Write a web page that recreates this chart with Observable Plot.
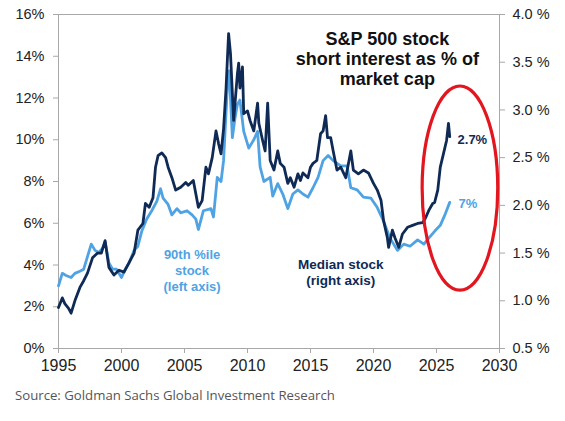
<!DOCTYPE html>
<html><head><meta charset="utf-8">
<script src="https://cdn.jsdelivr.net/npm/d3@7"></script>
<script src="https://cdn.jsdelivr.net/npm/@observablehq/plot@0.6"></script>
<style>
body{margin:0;background:#fff;}
#caption{font-family:"Open Sans",sans-serif;font-size:13.2px;color:#555;margin:6px 0 0 15px;}
</style></head><body>
<div id="chart"></div>
<div id="caption">Source: Goldman Sachs Global Investment Research</div>
<script>
// 90th percentile stock short interest (% of market cap, left axis)
const p90Years = [1995.0,1995.3,1995.6,1996.0,1996.3,1996.7,1997.0,1997.3,1997.6,1997.9,1998.2,1998.5,1998.7,1999.0,1999.3,1999.6,2000.0,2000.3,2000.6,2001.0,2001.3,2001.6,2002.0,2002.4,2002.8,2003.1,2003.3,2003.7,2004.0,2004.4,2004.7,2005.2,2005.6,2005.9,2006.1,2006.5,2007.1,2007.3,2007.6,2007.9,2008.1,2008.4,2008.55,2008.8,2009.0,2009.2,2009.4,2009.7,2010.1,2010.5,2010.8,2011.0,2011.3,2011.8,2012.0,2012.4,2012.8,2013.2,2013.6,2014.0,2014.4,2014.8,2015.2,2015.6,2016.0,2016.4,2016.8,2017.4,2017.9,2018.2,2018.7,2019.2,2019.8,2020.3,2020.8,2021.3,2021.9,2022.4,2022.9,2023.5,2024.0,2024.4,2024.9,2025.3,2025.7,2026.05];
const p90Values = [3.0,3.6,3.5,3.4,3.6,3.7,3.8,4.4,5.0,4.7,4.6,4.8,5.1,4.1,3.8,3.8,3.4,3.8,4.1,4.7,4.9,5.6,6.2,6.6,7.05,7.65,7.2,6.9,6.4,6.7,6.5,6.6,6.4,6.2,5.7,6.6,6.7,6.3,8.2,8.0,9.0,12.5,13.3,10.1,11.0,11.7,11.9,10.4,9.6,10.0,10.4,8.7,8.0,8.2,7.3,7.9,7.4,6.7,7.4,7.6,7.4,7.25,7.7,8.2,9.0,9.25,9.0,8.75,8.75,7.7,7.6,7.25,7.2,6.75,6.1,5.3,4.7,5.0,4.9,5.2,5.0,5.3,5.65,5.9,6.45,7.0];
// Median stock short interest (% of market cap, right axis)
const medYears = [1995.0,1995.3,1995.5,1995.8,1996.0,1996.3,1996.7,1997.0,1997.3,1997.7,1998.1,1998.4,1998.7,1999.0,1999.4,1999.8,2000.2,2000.6,2001.0,2001.3,2001.7,2001.9,2002.2,2002.5,2002.7,2002.9,2003.2,2003.5,2003.7,2004.0,2004.3,2004.7,2005.1,2005.3,2005.7,2006.1,2006.4,2006.7,2006.9,2007.2,2007.5,2007.7,2007.9,2008.1,2008.3,2008.4,2008.5,2008.65,2008.8,2008.9,2009.2,2009.3,2009.4,2009.6,2009.7,2010.0,2010.2,2010.5,2010.8,2010.9,2011.2,2011.4,2011.6,2011.8,2012.1,2012.4,2012.6,2012.9,2013.2,2013.4,2013.7,2014.0,2014.2,2014.4,2014.8,2015.0,2015.2,2015.5,2015.8,2016.0,2016.2,2016.35,2016.6,2016.8,2017.1,2017.4,2017.8,2018.2,2018.4,2018.8,2019.2,2019.6,2020.0,2020.3,2020.6,2020.8,2021.1,2021.2,2021.5,2021.7,2022.0,2022.3,2022.7,2023.1,2023.5,2023.9,2024.1,2024.4,2024.7,2024.85,2025.1,2025.3,2025.55,2025.8,2025.95,2026.05];
const medValues = [0.93,1.03,0.97,0.92,0.87,1.0,1.14,1.21,1.29,1.45,1.5,1.5,1.63,1.35,1.27,1.32,1.3,1.4,1.5,1.74,1.81,2.02,1.98,2.08,2.4,2.52,2.55,2.5,2.4,2.29,2.16,2.19,2.24,2.21,2.26,1.98,2.05,2.4,2.33,2.5,2.78,2.65,2.54,2.8,3.23,3.52,3.8,3.59,3.17,2.89,3.38,3.49,3.23,3.45,2.96,2.99,2.89,2.78,3.07,2.86,2.68,2.57,3.07,2.47,2.37,2.57,2.44,2.4,2.23,2.29,2.19,2.33,2.26,2.34,2.29,2.4,2.44,2.47,2.75,2.78,2.94,2.71,2.71,2.57,2.37,2.4,2.29,2.57,2.37,2.33,2.37,2.34,2.23,2.16,2.05,1.84,1.66,1.56,1.74,1.66,1.56,1.7,1.77,1.79,1.81,1.82,1.86,1.95,2.02,2.03,2.16,2.4,2.54,2.68,2.86,2.72];

const xTicks = [1995,2000,2005,2010,2015,2020,2025,2030];
const leftTicks = [0,2,4,6,8,10,12,14,16];
const rightTicks = [0.5,1.0,1.5,2.0,2.5,3.0,3.5,4.0];
const rightMin = 0.5, rightMax = 4.0, leftMax = 16;
const toLeft = r => (r - rightMin) * leftMax / (rightMax - rightMin);
const fromLeft = l => rightMin + l * (rightMax - rightMin) / leftMax;

const titleText = "S&P 500 stock\nshort interest as % of\nmarket cap";
const p90Label = "90th %ile\nstock\n(left axis)";
const medLabel = "Median stock\n(right axis)";
const medEnd = "2.7%";
const p90End = "7%";

// annotation ellipse (data units)
const ellipse = {cx: 2026.9, cy: 7.66, rx: 3.0, ry: 4.89};

const light = "#4fa3e3", navy = "#0f2a55", red = "#e3161f";
const p90 = p90Years.map((x,i)=>({x, y:p90Values[i]}));
const med = medYears.map((x,i)=>({x, r:medValues[i]}));
const font = "'Liberation Sans', Arial, sans-serif";

const chart = Plot.plot({
  width: 565, height: 380,
  marginTop: 14, marginBottom: 32, marginLeft: 58, marginRight: 66,
  style: {fontFamily: font, color: "#222", background: "#fff"},
  x: {domain: [1995, 2030]},
  y: {domain: [0, 16]},
  marks: [
    Plot.frame({stroke: "#a8a8a8"}),
    Plot.axisX({ticks: xTicks, tickFormat: d => String(d), label: null, tickSize: 5, tickPadding: 6, fontSize: 16, stroke: "#a8a8a8", fill: "#222"}),
    Plot.axisY({ticks: leftTicks, tickFormat: d => d + "%", label: null, tickSize: 5, tickPadding: 9, fontSize: 14.5, stroke: "#a8a8a8", fill: "#222"}),
    Plot.axisY(rightTicks.map(toLeft), {anchor: "right", label: null, tickFormat: d => fromLeft(d).toFixed(1) + " %", tickSize: 5, tickPadding: 8, fontSize: 14.5, stroke: "#a8a8a8", fill: "#222"}),
    Plot.line(p90, {x: "x", y: "y", stroke: light, strokeWidth: 2.8, strokeLinejoin: "round"}),
    Plot.line(med, {x: "x", y: d => toLeft(d.r), stroke: navy, strokeWidth: 2.8, strokeLinejoin: "round"}),
    (index, scales, values, dims, context) => {
      const el = d3.create("svg:ellipse")
        .attr("cx", scales.x(ellipse.cx))
        .attr("cy", scales.y(ellipse.cy))
        .attr("rx", Math.abs(scales.x(ellipse.cx + ellipse.rx) - scales.x(ellipse.cx)))
        .attr("ry", Math.abs(scales.y(ellipse.cy + ellipse.ry) - scales.y(ellipse.cy)))
        .attr("fill", "none").attr("stroke", red).attr("stroke-width", 3.2);
      return el.node();
    },
    Plot.text([titleText], {x: 2021.1, y: 15.22, text: d => d, lineAnchor: "top", lineHeight: 1.11, fontSize: 18, fontWeight: "bold", fill: "#111"}),
    Plot.text([p90Label], {x: 2005.6, y: 3.78, text: d => d, lineAnchor: "middle", lineHeight: 1.23, fontSize: 13, fontWeight: "bold", fill: light}),
    Plot.text([medLabel], {x: 2017.4, y: 3.69, text: d => d, lineAnchor: "middle", lineHeight: 1.2, fontSize: 13.5, fontWeight: "bold", fill: navy}),
    Plot.text([medEnd], {x: 2026.67, y: 10.0, text: d => d, textAnchor: "start", fontSize: 13, fontWeight: "bold", fill: navy}),
    Plot.text([p90End], {x: 2026.75, y: 6.95, text: d => d, textAnchor: "start", fontSize: 13, fontWeight: "bold", fill: light})
  ]
});
document.getElementById("chart").appendChild(chart);
</script></body></html>
